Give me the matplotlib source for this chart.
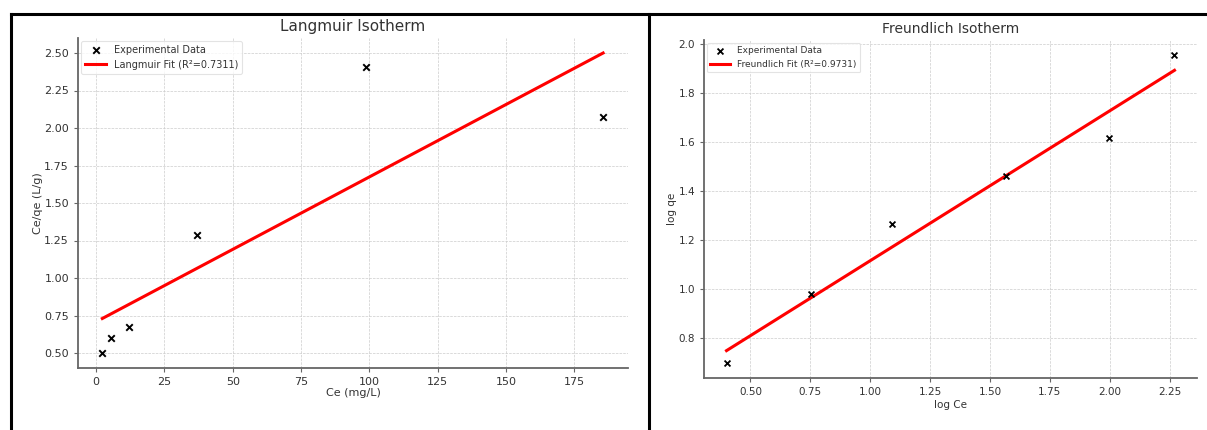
import matplotlib
matplotlib.use("Agg")
import matplotlib.pyplot as plt
from matplotlib.lines import Line2D

# ---- data ----
ce = [2.3, 5.6, 12.2, 37.0, 98.8, 185.5]
ce_qe = [0.50, 0.60, 0.673, 1.287, 2.407, 2.073]
langmuir_fit_x = [2.3, 185.5]
langmuir_fit_y = [0.73, 2.50]
langmuir_r2 = "0.7311"

log_ce = [0.40, 0.754, 1.092, 1.567, 1.996, 2.27]
log_qe = [0.698, 0.98, 1.265, 1.461, 1.616, 1.955]
freundlich_fit_x = [0.40, 2.27]
freundlich_fit_y = [0.747, 1.894]
freundlich_r2 = "0.9731"

lang_yticks = [0.50, 0.75, 1.00, 1.25, 1.50, 1.75, 2.00, 2.25, 2.50]
lang_xticks = [0, 25, 50, 75, 100, 125, 150, 175]
fr_yticks = [0.8, 1.0, 1.2, 1.4, 1.6, 1.8, 2.0]
fr_xticks = [0.50, 0.75, 1.00, 1.25, 1.50, 1.75, 2.00, 2.25]

W, H = 1207, 430
fig = plt.figure(figsize=(W / 100, H / 100), dpi=100)
fig.patch.set_facecolor("white")

txt = "#333333"
spine_c = "#666666"


def ax_rect(l, t, r, b):
    return [l / W, 1 - b / H, (r - l) / W, (b - t) / H]


def style(ax, tick_fs):
    for s in ["top", "right"]:
        ax.spines[s].set_visible(False)
    for s in ["left", "bottom"]:
        ax.spines[s].set_color(spine_c)
        ax.spines[s].set_linewidth(1.3)
    ax.tick_params(direction="out", length=3, width=0.8, colors=spine_c,
                   labelcolor=txt, labelsize=tick_fs)
    ax.grid(True, linestyle="--", linewidth=0.5, color="#cccccc")
    ax.set_axisbelow(True)


# Left: Langmuir
ax1 = fig.add_axes(ax_rect(78, 38, 628, 368))
style(ax1, 8)
ax1.scatter(ce, ce_qe, marker="x", color="black", s=22, linewidths=1.4,
            label="Experimental Data", zorder=3)
ax1.plot(langmuir_fit_x, langmuir_fit_y, color="red", linewidth=2.2,
         label=f"Langmuir Fit (R\u00b2={langmuir_r2})", zorder=2)
ax1.set_xticks(lang_xticks)
ax1.set_yticks(lang_yticks)
ax1.set_yticklabels([f"{v:.2f}" for v in lang_yticks])
ax1.set_xlim(-6.6, 194.6)
ax1.set_ylim(0.40, 2.60)
ax1.set_title("Langmuir Isotherm", fontsize=11, color=txt, pad=5)
ax1.set_xlabel("Ce (mg/L)", fontsize=8, color=txt, labelpad=1)
ax1.set_ylabel("Ce/qe (L/g)", fontsize=8, color=txt, labelpad=1)
leg1 = ax1.legend(loc="upper left", fontsize=7, frameon=True, edgecolor="#dddddd",
                  labelcolor=txt, borderaxespad=0.3, handlelength=2.2)
leg1.get_frame().set_linewidth(0.8)

# Right: Freundlich
ax2 = fig.add_axes(ax_rect(704, 40, 1197, 378))
style(ax2, 7.5)
ax2.scatter(log_ce, log_qe, marker="x", color="black", s=18, linewidths=1.3,
            label="Experimental Data", zorder=3)
ax2.plot(freundlich_fit_x, freundlich_fit_y, color="red", linewidth=2.2,
         label=f"Freundlich Fit (R\u00b2={freundlich_r2})", zorder=2)
ax2.set_xticks(fr_xticks)
ax2.set_xticklabels([f"{v:.2f}" for v in fr_xticks])
ax2.set_yticks(fr_yticks)
ax2.set_yticklabels([f"{v:.1f}" for v in fr_yticks])
ax2.set_xlim(0.306, 2.364)
ax2.set_ylim(0.635, 2.018)
ax2.set_title("Freundlich Isotherm", fontsize=10, color=txt, pad=5)
ax2.set_xlabel("log Ce", fontsize=7.5, color=txt, labelpad=2)
ax2.set_ylabel("log qe", fontsize=7.5, color=txt, labelpad=1)
leg2 = ax2.legend(loc="upper left", fontsize=6.5, frameon=True, edgecolor="#dddddd",
                  labelcolor=txt, borderaxespad=0.3, handlelength=2.2)
leg2.get_frame().set_linewidth(0.8)

# Table-like black frame lines
fig.add_artist(Line2D([11 / W, 1.0], [1 - 14 / H, 1 - 14 / H], color="black",
                      linewidth=2.2, transform=fig.transFigure))
fig.add_artist(Line2D([11 / W, 11 / W], [0, 1 - 14 / H], color="black",
                      linewidth=2.2, transform=fig.transFigure))
fig.add_artist(Line2D([649 / W, 649 / W], [0, 1 - 14 / H], color="black",
                      linewidth=2.2, transform=fig.transFigure))

fig.savefig("out.png", dpi=100)
